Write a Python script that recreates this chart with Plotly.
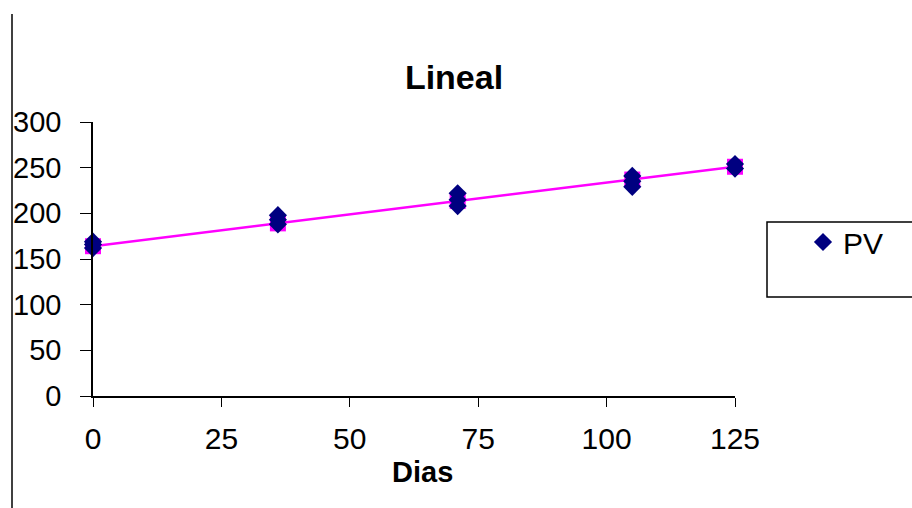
import plotly.graph_objects as go

# Data
dias = [0, 0, 0, 36, 36, 36, 71, 71, 71, 105, 105, 105, 125, 125]
pv = [162, 166, 169, 188, 193, 198, 208, 215, 222, 229, 235, 241, 249, 254]

trend_x = [0, 36, 71, 105, 125]
trend_y = [164, 189, 213.5, 237, 251]

x_ticks = [0, 25, 50, 75, 100, 125]
y_ticks = [0, 50, 100, 150, 200, 250, 300]

FONT = "Liberation Sans, Arial, sans-serif"

fig = go.Figure()
fig.add_trace(go.Scatter(
    x=trend_x, y=trend_y, mode="lines+markers",
    line=dict(color="#FF00FF", width=2.5),
    marker=dict(symbol="square", size=16, color="#FF00FF"),
    showlegend=False, cliponaxis=False, hoverinfo="skip"))
fig.add_trace(go.Scatter(
    x=dias, y=pv, mode="markers", name="PV",
    marker=dict(symbol="diamond", size=14, color="#000080"),
    cliponaxis=False))

fig.update_layout(
    width=912, height=508,
    margin=dict(l=93, r=177, t=122, b=112),
    paper_bgcolor="white", plot_bgcolor="white",
    font=dict(family=FONT, color="black"),
    title=dict(text="<b>Lineal</b>", x=(454 - 93) / 642, xref="paper", xanchor="center",
               y=1 - 77/508, yref="container", yanchor="middle",
               font=dict(size=34, family=FONT, color="black")),
    xaxis=dict(range=[0, 125], tickvals=x_ticks, ticktext=[str(v) for v in x_ticks],
               showgrid=False, zeroline=False, showline=True, linecolor="black", linewidth=1.5,
               ticks="outside", ticklen=9, tickcolor="black", tickwidth=1.2,
               tickfont=dict(size=30, family=FONT), ticklabelstandoff=6),
    yaxis=dict(range=[0, 300], tickvals=y_ticks, ticktext=[str(v) for v in y_ticks],
               showgrid=False, zeroline=False, showline=True, linecolor="black", linewidth=1.5,
               ticks="outside", ticklen=11, tickcolor="black", tickwidth=1.2,
               tickfont=dict(size=29, family=FONT), ticklabelstandoff=13),
    legend=dict(x=(803 - 93) / 642, y=(396 - 216) / 274, xanchor="left", yanchor="top",
                xref="paper", yref="paper",
                bgcolor="rgba(0,0,0,0)", borderwidth=0,
                font=dict(size=30, family=FONT, color="black")),
    showlegend=True,
)

fig.add_annotation(text="<b>Dias</b>", x=(423 - 93) / 642, y=(396 - 472) / 274,
                   xref="paper", yref="paper", showarrow=False,
                   xanchor="center", yanchor="middle",
                   font=dict(size=29, family=FONT, color="black"))

# legend frame
fig.add_shape(type="rect", xref="paper", yref="paper",
              x0=(767 - 93) / 642, x1=(915 - 93) / 642,
              y0=(396 - 297) / 274, y1=(396 - 222) / 274,
              line=dict(color="black", width=1.5), fillcolor="rgba(0,0,0,0)", layer="above")
# vertical line at the left edge of the picture
fig.add_shape(type="line", xref="paper", yref="paper",
              x0=(12 - 93) / 642, x1=(12 - 93) / 642,
              y0=(396 - 510) / 274, y1=(396 - 14) / 274,
              line=dict(color="black", width=1.5))

fig.write_html("out.html")
